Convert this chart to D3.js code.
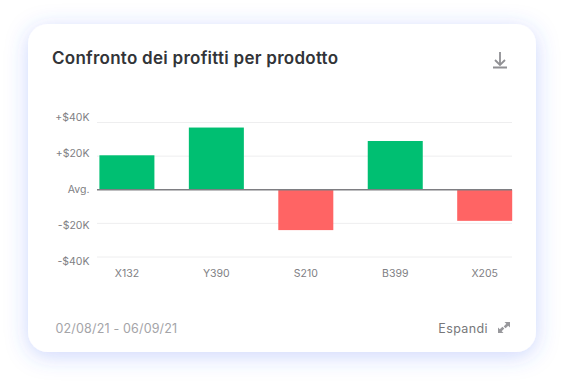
<!DOCTYPE html>
<html><head><meta charset="utf-8">
<script src="https://cdn.jsdelivr.net/npm/d3@7"></script>
<style>html,body{margin:0;padding:0;background:#fff}svg{display:block}text{font-family:Inter,sans-serif}</style>
</head><body><svg id="c" width="564" height="384"></svg>
<script>
const products = ["X132","Y390","S210","B399","X205"];
const profits = [20500,37000,-24000,29000,-18500];
const tickValues = [40000,20000,0,-20000,-40000];
const tickLabels = ["+$40K","+$20K","Avg.","-$20K","-$40K"];
const title = "Confronto dei profitti per prodotto";
const dateRange = "02/08/21 - 06/09/21";
const expandLabel = "Espandi";

const svg = d3.select("#c");
const defs = svg.append("defs");
const f = defs.append("filter").attr("id","sh").attr("x","-20%").attr("y","-20%").attr("width","140%").attr("height","140%");
f.append("feDropShadow").attr("dx",0).attr("dy",4).attr("stdDeviation",11).attr("flood-color","#3d63f5").attr("flood-opacity",0.26);
svg.append("rect").attr("x",28).attr("y",24).attr("width",508).attr("height",328).attr("rx",20).attr("fill","#fff").attr("filter","url(#sh)");

svg.append("text").attr("x",52).attr("y",64).attr("font-size",17).attr("font-weight",600).attr("letter-spacing",0.26).attr("fill","#323438").text(title);

const y = d3.scaleLinear().domain([-40000,40000]).range([257,122.5]);
const yLabel = d3.scalePoint().domain(tickValues).range([117,261]);
const x = d3.scaleBand().domain(products).range([99.4,512.2]).paddingInner(0.385).paddingOuter(0);

const g = svg.append("g");
g.selectAll("line.grid").data(tickValues.filter(d=>d!==0)).join("line")
 .attr("class","grid").attr("x1",97).attr("x2",512).attr("y1",d=>y(d)).attr("y2",d=>y(d))
 .attr("stroke","#eeeeef").attr("stroke-width",1);
g.selectAll("rect.bar").data(products).join("rect").attr("class","bar")
 .attr("x",d=>x(d)).attr("width",x.bandwidth())
 .attr("y",(d,i)=>y(Math.max(0,profits[i])))
 .attr("height",(d,i)=>Math.abs(y(profits[i])-y(0)))
 .attr("fill",(d,i)=>profits[i]>=0?"#00bf72":"#ff6464");
g.append("line").attr("x1",97).attr("x2",512).attr("y1",y(0)).attr("y2",y(0)).attr("stroke","#7e7e82").attr("stroke-width",1.4);

g.selectAll("text.yl").data(tickValues).join("text").attr("class","yl")
 .attr("x",89.5).attr("y",d=>yLabel(d)).attr("dy","0.36em").attr("text-anchor","end")
 .attr("font-size",10.5).attr("fill","#808084").text((d,i)=>tickLabels[i]);
g.selectAll("text.xl").data(products).join("text").attr("class","xl")
 .attr("x",d=>x(d)+x.bandwidth()/2).attr("y",277).attr("text-anchor","middle")
 .attr("font-size",10.5).attr("fill","#808084").text(d=>d);

svg.append("text").attr("x",55.5).attr("y",333).attr("font-size",12.5).attr("letter-spacing",0.17).attr("fill","#a4a4a8").text(dateRange);
svg.append("text").attr("x",488).attr("y",333).attr("text-anchor","end").attr("font-size",12.5).attr("letter-spacing",0.4).attr("fill","#77777a").text(expandLabel);

// download icon
svg.append("path").attr("d","M500 52V65M495 60L500 65L505 60").attr("fill","none").attr("stroke","#909094").attr("stroke-width",1.8);
svg.append("rect").attr("x",493).attr("y",66.5).attr("width",14).attr("height",2).attr("fill","#909094");
// expand icon
svg.append("path").attr("d","M504.5 322H510V327.5L508.2 325.7L505.6 328.3L503.7 326.4L506.3 323.8ZM503.5 333H498V327.5L499.8 329.3L502.4 326.7L504.3 328.6L501.7 331.2Z").attr("fill","#98989c");
</script></body></html>
